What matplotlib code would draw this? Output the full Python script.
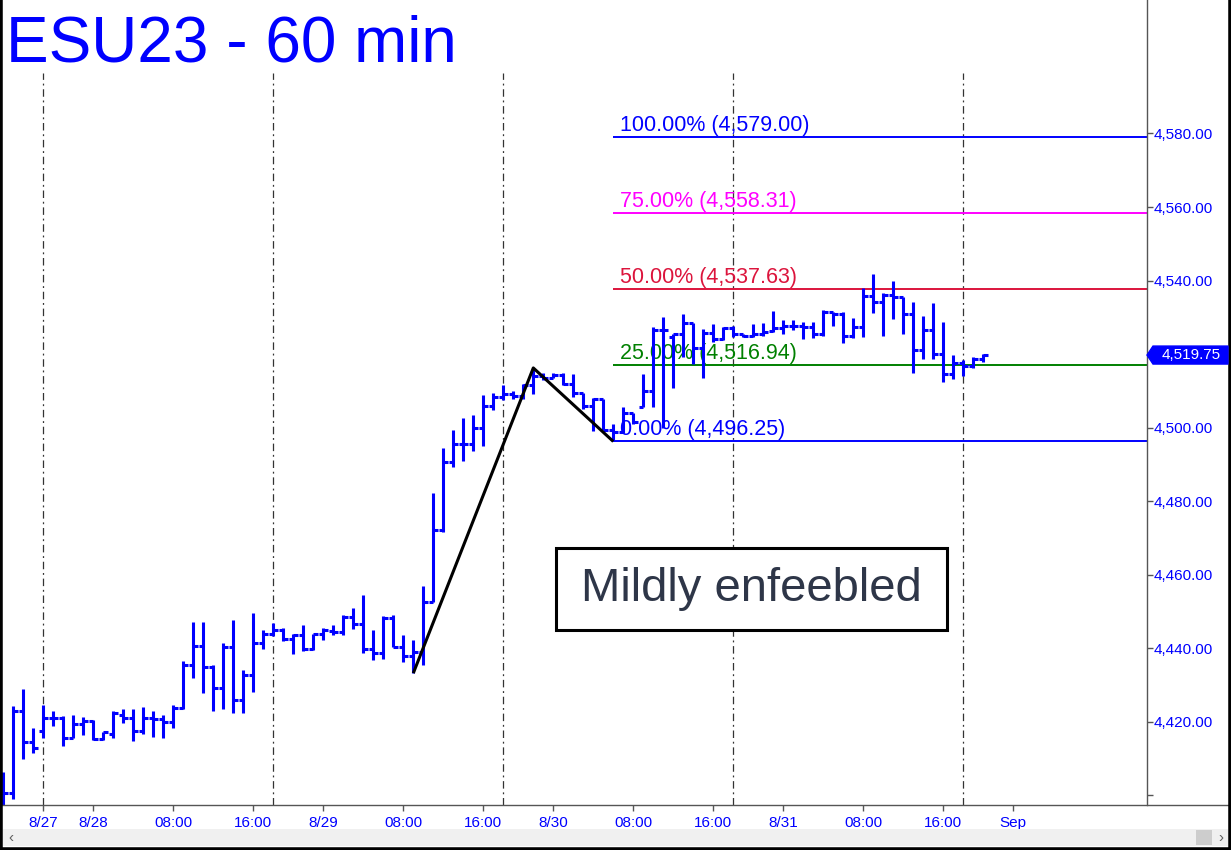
import numpy as np
import matplotlib
matplotlib.use("Agg")
import matplotlib.pyplot as plt
from matplotlib.patches import Rectangle, Polygon
from matplotlib.lines import Line2D
from matplotlib.ticker import FuncFormatter

plt.rcParams['font.family'] = ['Liberation Sans', 'DejaVu Sans']

# ---------------- data ----------------
opens = [4401.25, 4400.75, 4423.0, 4414.5, 4417.5, 4421.0, 4421.0, 4415.75, 4419.5, 4420.25,
         4415.25, 4416.75, 4422.0, 4421.0, 4417.5, 4421.0, 4420.75, 4420.0, 4423.75, 4435.5,
         4440.75, 4435.0, 4429.25, 4440.5, 4426.0, 4432.75, 4441.5, 4444.0, 4445.0, 4442.5,
         4443.5, 4439.75, 4444.0, 4444.75, 4444.5, 4448.5, 4446.75, 4439.75, 4438.75, 4448.25,
         4440.5, 4438.0, 4439.0, 4452.5, 4472.25, 4490.75, 4495.5, 4495.5, 4500.0, 4506.0,
         4508.25, 4509.25, 4508.5, 4511.5, 4514.0, 4513.5, 4514.25, 4512.0, 4509.5, 4506.0,
         4507.75, 4499.5, 4498.75, 4504.0, 4505.75, 4510.0, 4526.5, 4524.75, 4525.5, 4528.5,
         4521.75, 4525.75, 4524.0, 4527.0, 4525.5, 4525.0, 4525.5, 4526.25, 4527.0, 4527.75,
         4527.75, 4527.5, 4525.5, 4531.5, 4531.0, 4525.0, 4527.25, 4535.75, 4534.25, 4536.0,
         4535.5, 4531.0, 4521.0, 4526.5, 4520.0, 4514.5, 4517.5, 4516.75, 4518.75]
highs = [4406.25, 4424.25, 4429.0, 4418.25, 4424.5, 4423.0, 4421.5, 4421.75, 4421.25, 4420.5,
         4417.25, 4423.0, 4423.5, 4423.5, 4424.0, 4423.0, 4421.75, 4424.5, 4436.5, 4447.25,
         4447.25, 4435.5, 4441.5, 4447.75, 4434.0, 4449.5, 4445.0, 4447.0, 4445.5, 4444.0,
         4446.25, 4444.0, 4445.5, 4446.25, 4449.0, 4451.0, 4454.5, 4445.0, 4448.75, 4449.0,
         4443.75, 4442.25, 4457.0, 4482.25, 4494.5, 4499.5, 4502.5, 4503.5, 4509.0, 4509.5,
         4511.5, 4510.0, 4512.0, 4516.25, 4515.0, 4515.0, 4515.0, 4514.5, 4509.5, 4508.0,
         4507.75, 4501.0, 4505.5, 4504.0, 4514.5, 4527.5, 4530.0, 4525.5, 4531.0, 4528.5,
         4526.75, 4528.25, 4527.5, 4527.75, 4525.5, 4528.25, 4528.5, 4531.75, 4529.25, 4529.25,
         4528.75, 4528.75, 4532.0, 4531.5, 4531.5, 4529.75, 4538.0, 4541.75, 4536.75, 4540.0,
         4535.5, 4534.25, 4530.5, 4534.0, 4528.75, 4519.75, 4518.5, 4519.25, 4520.0]
lows = [4396.75, 4399.0, 4410.0, 4411.5, 4415.5, 4418.75, 4413.5, 4415.5, 4416.5, 4415.0,
        4415.0, 4415.5, 4419.75, 4414.75, 4416.75, 4416.0, 4415.5, 4418.25, 4423.5, 4432.0,
        4427.75, 4423.0, 4423.5, 4422.5, 4422.5, 4428.0, 4439.75, 4443.25, 4442.0, 4438.5,
        4439.25, 4439.5, 4442.25, 4443.5, 4443.75, 4445.25, 4438.75, 4436.75, 4437.0, 4440.25,
        4436.25, 4433.25, 4435.5, 4452.5, 4471.5, 4489.25, 4491.0, 4493.75, 4495.0, 4504.75,
        4507.5, 4507.75, 4507.75, 4509.25, 4513.0, 4513.5, 4511.5, 4508.25, 4505.0, 4499.0,
        4499.25, 4496.25, 4498.5, 4501.0, 4505.5, 4505.5, 4500.0, 4510.75, 4519.25, 4517.25,
        4513.5, 4523.25, 4523.75, 4524.75, 4524.75, 4524.75, 4525.0, 4526.0, 4525.5, 4526.5,
        4524.0, 4524.5, 4525.0, 4527.75, 4523.0, 4524.5, 4524.75, 4531.25, 4525.0, 4529.5,
        4525.5, 4514.75, 4518.75, 4518.75, 4512.5, 4513.25, 4514.0, 4516.25, 4517.75]
closes = [4400.75, 4423.0, 4414.5, 4413.0, 4421.0, 4421.0, 4415.5, 4419.5, 4420.25, 4415.25,
          4417.25, 4422.5, 4421.0, 4417.5, 4421.0, 4420.75, 4420.0, 4423.75, 4435.5, 4440.75,
          4435.0, 4429.25, 4440.5, 4426.0, 4432.75, 4441.5, 4444.0, 4445.0, 4442.5, 4443.5,
          4439.75, 4444.0, 4445.0, 4444.5, 4448.5, 4446.75, 4439.75, 4438.75, 4448.25, 4440.5,
          4438.0, 4439.0, 4452.5, 4472.25, 4490.75, 4495.5, 4495.5, 4500.0, 4506.0, 4508.25,
          4509.25, 4508.5, 4511.5, 4514.0, 4513.5, 4514.25, 4512.0, 4509.5, 4506.0, 4507.75,
          4499.5, 4498.75, 4504.0, 4501.5, 4510.0, 4526.5, 4526.5, 4525.5, 4528.5, 4521.75,
          4525.75, 4524.0, 4527.0, 4525.5, 4525.0, 4525.5, 4526.0, 4527.0, 4527.75, 4527.75,
          4527.5, 4525.5, 4531.5, 4531.0, 4525.0, 4527.25, 4535.75, 4534.25, 4536.0, 4535.5,
          4531.0, 4521.0, 4526.5, 4520.0, 4514.5, 4517.5, 4516.75, 4518.75, 4519.75]

x_tick_pos = [4, 9, 17, 25, 32, 40, 48, 55, 63, 71, 78, 86, 94, 101]
x_tick_labels = ["8/27", "8/28", "08:00", "16:00", "8/29", "08:00", "16:00",
                 "8/30", "08:00", "16:00", "8/31", "08:00", "16:00", "Sep"]
session_idx = [4, 27, 50, 73, 96]
y_ticks = [4400, 4420, 4440, 4460, 4480, 4500, 4540, 4560, 4580]
y_unlabeled = [4400]

fib_levels = [4579.00, 4558.31, 4537.63, 4516.94, 4496.25]
fib_pcts = ["100.00%", "75.00%", "50.00%", "25.00%", "0.00%"]
fib_colors = ["#0000FF", "#FF00FF", "#DC143C", "#008000", "#0000FF"]
fib_start_idx = 61

swing_idx = [41, 53, 61]
swing_price = [4433.25, 4516.25, 4496.25]

title = "ESU23 - 60 min"
note = "Mildly enfeebled"

# ---------------- layout ----------------
BLUE = "#0000FF"
W, H = 1231, 850
fig = plt.figure(figsize=(W / 100, H / 100), dpi=100)
fig.patch.set_facecolor("white")


def fx(px):
    return px / W


def fy(py):
    return 1 - py / H


ax = fig.add_axes([0, fy(805), fx(1147), 805 / H])
ax.set_xlim(-0.33, 114.37)
ax.set_ylim(4397.4, 4616.3)

x = np.arange(len(closes))
ax.vlines(x, lows, highs, color=BLUE, lw=2.2, zorder=4, capstyle="butt")
ax.hlines(opens, x - 0.45, x, color=BLUE, lw=2.2, zorder=4, capstyle="butt")
ax.hlines(closes, x, x + 0.45, color=BLUE, lw=2.2, zorder=4, capstyle="butt")

# session separators
for s in session_idx:
    ax.axvline(s, ymin=0, ymax=(805 - 73) / 805, color="#333333", lw=0.9,
               linestyle=(0, (6, 3, 1.5, 3)), zorder=1)

# fib levels
xr = ax.get_xlim()[1]
for lvl, pct, col in zip(fib_levels, fib_pcts, fib_colors):
    ax.hlines(lvl, fib_start_idx, xr, color=col, lw=1.4, zorder=2)
    ax.annotate(f"{pct} ({lvl:,.2f})", xy=(fib_start_idx, lvl), xytext=(7, 6),
                textcoords="offset pixels", color=col, fontsize=15.5,
                va="baseline", ha="left", zorder=2)

# swing lines
ax.plot(swing_idx, swing_price, color="black", lw=2.2, zorder=5,
        solid_capstyle="butt")

# axes styling
for sp in ["left", "top", "bottom"]:
    ax.spines[sp].set_visible(False)
ax.spines["right"].set_color("#555555")
ax.spines["right"].set_linewidth(1.0)
ax.yaxis.tick_right()
ax.set_yticks(y_ticks)
ax.yaxis.set_major_formatter(
    FuncFormatter(lambda v, p: "" if v in y_unlabeled else f"{v:,.2f}"))
ax.tick_params(axis="y", direction="out", length=4, width=1, color="#555555",
               pad=1, labelcolor=BLUE, labelsize=11)
ax.set_xticks(x_tick_pos)
ax.set_xticklabels(x_tick_labels)
ax.tick_params(axis="x", direction="out", length=4, width=1, color="#555555",
               pad=4, labelcolor=BLUE, labelsize=11)

# bottom axis line across whole width
fig.add_artist(Line2D([0, 1], [fy(805), fy(805)], transform=fig.transFigure,
                      color="#555555", lw=1.0))

# title
fig.text(fx(6), fy(61), title, fontsize=46, color=BLUE, va="baseline", ha="left")

# note box
ax.add_patch(Rectangle((fx(556), fy(630)), fx(947) - fx(556), (630 - 548) / H,
                       transform=fig.transFigure, facecolor="white",
                       edgecolor="black", lw=2.2, zorder=6, clip_on=False))
fig.text(fx(751.5), fy(589), note, fontsize=34, color="#2E3648",
         ha="center", va="center", zorder=7)

# last price tag
fig.canvas.draw()
last = closes[-1]
yd = ax.transData.transform((0, last))[1]
xd = ax.transAxes.transform((1, 0))[0]
tag = Polygon([(xd, yd), (xd + 6, yd + 9), (xd + 81, yd + 9), (xd + 81, yd - 9),
               (xd + 6, yd - 9)], closed=True, transform=None,
              facecolor=BLUE, edgecolor=BLUE, zorder=10)
fig.add_artist(tag)
fig.text((xd + 44) / W, yd / H, f"{last:,.2f}", color="white", fontsize=11,
         ha="center", va="center", zorder=11)

# scrollbar and window frame
fig.add_artist(Rectangle((fx(3), fy(846)), fx(1225), 17 / H, transform=fig.transFigure,
                         facecolor="#F0F0F0", edgecolor="none"))
fig.add_artist(Rectangle((fx(1196), fy(845)), fx(16), 15 / H, transform=fig.transFigure,
                         facecolor="#CDCDCD", edgecolor="none"))
fig.text(fx(8), fy(838), "\u2039", fontsize=11, color="#606060", va="center")
fig.text(fx(1218), fy(838), "\u203a", fontsize=11, color="#606060", va="center")
for xs, ys in [([0, 0], [0, 1]), ([0, 1], [0, 0]), ([1, 1], [0, 1])]:
    fig.add_artist(Line2D(xs, ys, transform=fig.transFigure, color="black", lw=4))

fig.savefig("out.png", dpi=100)
